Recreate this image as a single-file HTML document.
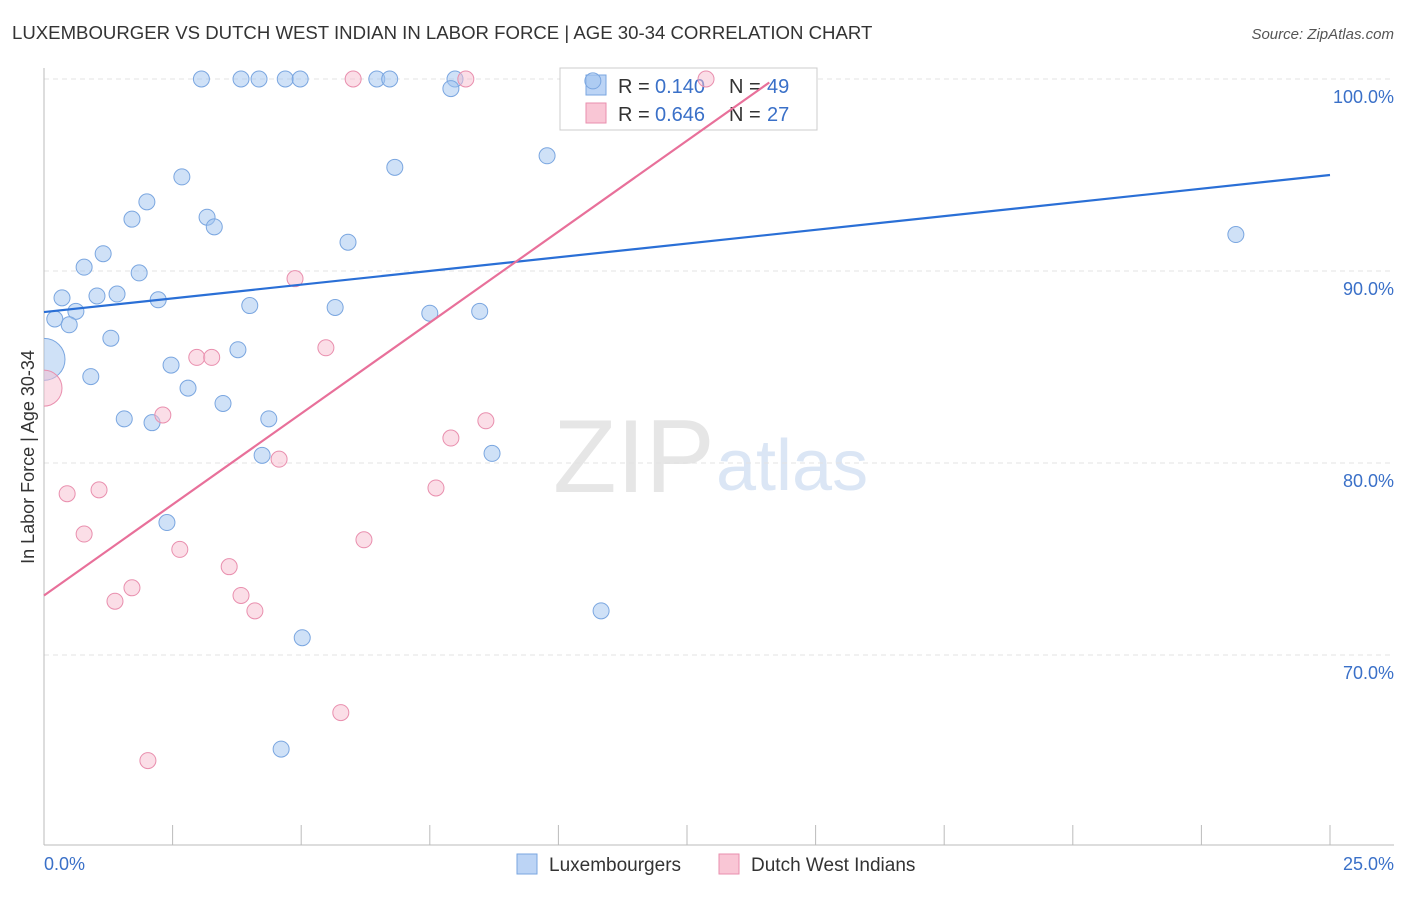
<!DOCTYPE html>
<html><head><meta charset="utf-8"><style>
body{margin:0;background:#fff;font-family:"Liberation Sans",sans-serif;}
svg text{font-family:"Liberation Sans",sans-serif;white-space:pre;}
</style></head><body>
<svg id="chart" width="1406" height="892">
<defs><clipPath id="plotclip"><rect x="44" y="60" width="1360" height="785"/></clipPath></defs>
<text x="12" y="39" font-size="18.6" fill="#333">LUXEMBOURGER VS DUTCH WEST INDIAN IN LABOR FORCE | AGE 30-34 CORRELATION CHART</text>
<text x="1394" y="39" font-size="15" fill="#555" font-style="italic" text-anchor="end">Source: ZipAtlas.com</text>
<text x="553" y="492" font-size="104" fill="#e6e6e6" font-family="Liberation Serif">ZIP</text>
<text x="716" y="490" font-size="72" fill="#dbe6f5">atlas</text>
<g id="grid"></g><g id="axes"></g>
<g>
<rect x="560" y="68" width="257" height="62" fill="#fff" stroke="#ccc"/>
<rect x="586" y="75" width="20" height="20" fill="#bcd4f5" stroke="#7aa6e0"/>
<rect x="586" y="103" width="20" height="20" fill="#f9c6d5" stroke="#e98fae"/>
<text x="618" y="93" font-size="20" fill="#333">R = </text><text x="655" y="93" font-size="20" fill="#3a70c8">0.140</text>
<text x="729" y="93" font-size="20" fill="#333">N = </text><text x="767" y="93" font-size="20" fill="#3a70c8">49</text>
<text x="618" y="121" font-size="20" fill="#333">R = </text><text x="655" y="121" font-size="20" fill="#3a70c8">0.646</text>
<text x="729" y="121" font-size="20" fill="#333">N = </text><text x="767" y="121" font-size="20" fill="#3a70c8">27</text>
</g>
<g id="pts" clip-path="url(#plotclip)"></g><g id="lines"></g>
<text transform="translate(34,457) rotate(-90)" font-size="18" fill="#333" text-anchor="middle">In Labor Force | Age 30-34</text>
<text x="44" y="870" font-size="18" fill="#3a70c8">0.0%</text>
<text x="1394" y="870" font-size="18" fill="#3a70c8" text-anchor="end">25.0%</text>
<g>
<rect x="517" y="854" width="20" height="20" fill="#bcd4f5" stroke="#7aa6e0"/>
<text x="549" y="871" font-size="19" fill="#333">Luxembourgers</text>
<rect x="719" y="854" width="20" height="20" fill="#f9c6d5" stroke="#e98fae"/>
<text x="751" y="871" font-size="19" fill="#333">Dutch West Indians</text>
</g>
</svg>
<script>
const yTicks=[100,90,80,70];
const yTickLabels=["100.0%","90.0%","80.0%","70.0%"];
const blueX=[3.06,3.83,4.18,4.69,4.98,6.47,6.72,7.99,7.91,10.67,9.78,2.68,6.82,2.0,1.71,3.17,3.31,5.91,1.15,0.78,1.85,0.35,1.03,1.42,2.22,4.0,5.66,0.62,0.21,0.49,7.5,8.47,1.3,3.77,2.47,0.91,2.8,3.48,1.56,2.1,4.37,4.24,8.71,2.39,10.83,5.02,4.61,23.17,0.0];
const blueY=[100,100,100,100,100,100,100,100,99.5,99.9,96.0,94.9,95.4,93.6,92.7,92.8,92.3,91.5,90.9,90.2,89.9,88.6,88.7,88.8,88.5,88.2,88.1,87.9,87.5,87.2,87.8,87.9,86.5,85.9,85.1,84.5,83.9,83.1,82.3,82.1,82.3,80.4,80.5,76.9,72.3,70.9,65.1,91.9,85.4];
const blueR=Array(48).fill(8).concat([21]);
const pinkX=[0.0,6.01,8.2,12.87,4.88,5.48,2.97,3.26,2.31,8.59,7.91,4.57,0.45,1.07,7.62,0.78,6.22,2.64,3.6,1.71,1.38,3.83,4.1,5.77,2.02];
const pinkY=[83.9,100,100,100,89.6,86.0,85.5,85.5,82.5,82.2,81.3,80.2,78.4,78.6,78.7,76.3,76.0,75.5,74.6,73.5,72.8,73.1,72.3,67.0,64.5];
const pinkR=[18].concat(Array(24).fill(8));
const blueTrend=[87.86,95.0];
const pinkTrend={b:73.1,m:1.895,xEnd:14.1};
const NS="http://www.w3.org/2000/svg";
const X=v=>44+v/25*1286, Y=v=>79+(100-v)*19.2;
function mk(t,a,p){const e=document.createElementNS(NS,t);for(const k in a)e.setAttribute(k,a[k]);document.getElementById(p).appendChild(e);return e;}
yTicks.forEach((t,i)=>{
 const l=mk('line',{x1:44,x2:1394,y1:Y(t),y2:Y(t),stroke:'#e3e3e3','stroke-dasharray':'5,4'},'grid');
 
 
 const tx=mk('text',{x:1394,y:Y(t)+24,'font-size':18,fill:'#3a70c8','text-anchor':'end'},'grid');tx.textContent=yTickLabels[i];
 
 
});
mk('line',{x1:44,x2:44,y1:68,y2:845,stroke:'#bbb'},'axes');
mk('line',{x1:44,x2:1394,y1:845,y2:845,stroke:'#bbb'},'axes');
for(let i=0;i<=10;i++){const t=mk('line',{x1:X(i*2.5),x2:X(i*2.5),y1:825,y2:845,stroke:'#bbb'},'axes');
 
 }
blueX.forEach((v,i)=>{const c=mk('circle',{cx:X(v),cy:Y(blueY[i]),r:blueR[i],fill:'rgba(160,195,240,0.5)',stroke:'#7aa6e0'},'pts');
 
 });
pinkX.forEach((v,i)=>{const c=mk('circle',{cx:X(v),cy:Y(pinkY[i]),r:pinkR[i],fill:'rgba(248,190,208,0.5)',stroke:'#e98fae'},'pts');
 
 });
const bl=mk('line',{x1:X(0),y1:Y(blueTrend[0]),x2:X(25),y2:Y(blueTrend[1]),stroke:'#2a6fd6','stroke-width':2.2},'lines');


const pl=mk('line',{x1:X(0),y1:Y(pinkTrend.b),x2:X(pinkTrend.xEnd),y2:Y(pinkTrend.b+pinkTrend.m*pinkTrend.xEnd),stroke:'#e8709a','stroke-width':2.2},'lines');


</script>
</body></html>
